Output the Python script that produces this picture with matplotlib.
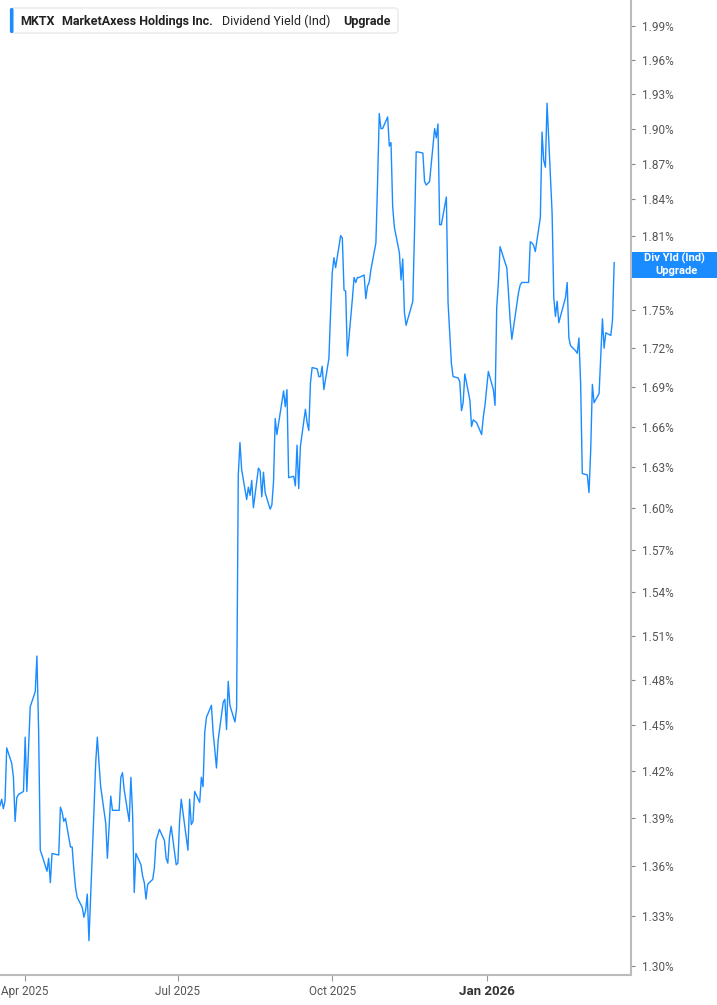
import numpy as np
import pandas as pd
import matplotlib
matplotlib.use("Agg")
import matplotlib.pyplot as plt
from matplotlib.patches import FancyBboxPatch, Rectangle
from matplotlib.ticker import NullLocator

plt.rcParams['font.family'] = ['Roboto', 'DejaVu Sans']

# dividend yield (%) per trading day
yld_spring = [1.398, 1.402, 1.396, 1.401, 1.435, 1.425, 1.416, 1.388, 1.403, 1.405,
              1.407, 1.442, 1.407, 1.434, 1.462, 1.472, 1.496, 1.447, 1.370, 1.367,
              1.357, 1.365, 1.350, 1.368, 1.367, 1.397, 1.394, 1.388, 1.390, 1.372,
              1.372, 1.358, 1.347, 1.341, 1.335, 1.329, 1.333, 1.343, 1.315, 1.395,
              1.425, 1.442, 1.425, 1.410, 1.387, 1.365, 1.385, 1.404, 1.395, 1.395,
              1.416, 1.419, 1.408, 1.388, 1.416]
yld_summer = [1.393, 1.344, 1.368, 1.361, 1.354, 1.350, 1.340, 1.349, 1.352, 1.359,
              1.376, 1.383, 1.376, 1.365, 1.362, 1.378, 1.385, 1.361, 1.362, 1.388,
              1.402, 1.370, 1.402, 1.386, 1.388, 1.407, 1.400, 1.416, 1.410, 1.445,
              1.455, 1.463, 1.445, 1.434, 1.422, 1.440, 1.465, 1.467, 1.447, 1.479,
              1.463, 1.452, 1.461]
yld_late_summer = [1.624, 1.648, 1.628, 1.606, 1.615, 1.609, 1.620, 1.600, 1.629, 1.627,
                   1.608, 1.626, 1.611, 1.599, 1.602, 1.619, 1.666, 1.654, 1.687, 1.675,
                   1.688, 1.622, 1.623, 1.616, 1.646, 1.614, 1.645, 1.673, 1.663, 1.657,
                   1.693, 1.705, 1.704, 1.698, 1.698, 1.706, 1.688, 1.712]
yld_autumn = [1.748, 1.780, 1.792, 1.784, 1.810, 1.808, 1.766, 1.765, 1.714, 1.759,
              1.776, 1.772, 1.776, 1.776, 1.778, 1.759, 1.769, 1.772, 1.782, 1.804,
              1.854, 1.913, 1.900, 1.900, 1.910, 1.885, 1.888, 1.834, 1.817, 1.796,
              1.774, 1.791, 1.748, 1.738, 1.752, 1.757, 1.812, 1.880, 1.880, 1.879,
              1.855, 1.852]
yld_winter = [1.855, 1.900, 1.892, 1.904, 1.819, 1.819, 1.842, 1.756, 1.732, 1.708,
              1.698, 1.697, 1.694, 1.672, 1.678, 1.700, 1.680, 1.660, 1.665, 1.663,
              1.654, 1.667, 1.676, 1.702, 1.688, 1.676, 1.752, 1.772, 1.801]
yld_2026 = [1.788, 1.784, 1.764, 1.742, 1.727, 1.764, 1.770, 1.772, 1.772, 1.772,
            1.805, 1.804, 1.802, 1.797, 1.825, 1.897, 1.873, 1.867, 1.922, 1.829,
            1.760, 1.745, 1.757, 1.740, 1.760, 1.772, 1.728, 1.722, 1.718, 1.716,
            1.728, 1.693, 1.625, 1.624, 1.611, 1.642, 1.692, 1.678, 1.685, 1.713,
            1.743, 1.720, 1.732, 1.730, 1.742, 1.788]

start_date = '2025-03-17'
market_holidays = ['2025-04-18', '2025-05-26', '2025-06-19', '2025-07-04', '2025-09-01',
                   '2025-11-27', '2025-12-25', '2026-01-01', '2026-01-19', '2026-02-16']

x_ticks = ['2025-04-01', '2025-07-01', '2025-10-01', '2026-01-01']
x_labels = ['Apr 2025', 'Jul 2025', 'Oct 2025', 'Jan 2026']
y_ticks = [1.30, 1.33, 1.36, 1.39, 1.42, 1.45, 1.48, 1.51, 1.54, 1.57, 1.60, 1.63,
           1.66, 1.69, 1.72, 1.75, 1.78, 1.81, 1.84, 1.87, 1.90, 1.93, 1.96, 1.99]
hidden_tick = 1.78  # sits behind the last-value tag

blue = '#1a8cff'

yld = yld_spring + yld_summer + yld_late_summer + yld_autumn + yld_winter + yld_2026
dates = pd.bdate_range(start_date, periods=len(yld), freq='C', holidays=market_holidays)

fig = plt.figure(figsize=(7.17, 10.05), dpi=100)
ax = fig.add_axes([0, 0.0299, 0.880, 0.9701])
ax.plot(dates, yld, color=blue, lw=1.0)

ax.set_yscale('log')
ax.set_ylim(1.2947, 2.014)
ax.set_xlim(pd.Timestamp('2025-03-17'), pd.Timestamp('2026-03-28'))

ax.yaxis.tick_right()
ax.yaxis.set_minor_locator(NullLocator())
ax.set_yticks(y_ticks)
ax.set_yticklabels(['' if v == hidden_tick else f"{v:.2f}%" for v in y_ticks])
ax.tick_params(axis='y', direction='out', length=3, width=0.8, color='#888888',
               labelcolor='#555555', labelsize=8.5, pad=5)

ax.set_xticks(pd.to_datetime(x_ticks))
ax.set_xticklabels(x_labels)
ax.xaxis.set_minor_locator(NullLocator())
ax.tick_params(axis='x', direction='out', length=4, width=0.8, color='#999999',
               labelcolor='#555555', labelsize=8.5, pad=3)
lab = ax.get_xticklabels()[-1]
lab.set_fontweight('bold')
lab.set_color('#333333')
lab.set_fontsize(9.5)

for side in ['top', 'left']:
    ax.spines[side].set_visible(False)
for side in ['right', 'bottom']:
    ax.spines[side].set_color('#bbbbbb')
    ax.spines[side].set_linewidth(1.5)

# overlay in pixel coordinates for the header and the last-value tag
ov = fig.add_axes([0, 0, 1, 1])
ov.set_xlim(0, 717)
ov.set_ylim(1005, 0)
ov.axis('off')

ov.add_patch(FancyBboxPatch((10, 8), 388, 25, boxstyle='round,pad=0,rounding_size=3',
                            fc='white', ec='#e4e4e4', lw=0.8))
ov.add_patch(FancyBboxPatch((10, 8), 3.5, 25, boxstyle='round,pad=0,rounding_size=1.5',
                            fc=blue, ec='none'))
ov.text(20.5, 21, 'MKTX', fontsize=9, fontweight='bold', color='#222222', va='center')
ov.text(62.5, 21, 'MarketAxess Holdings Inc.', fontsize=9, fontweight='bold',
        color='#222222', va='center')
ov.text(222, 21, 'Dividend Yield (Ind)', fontsize=9, color='#222222', va='center')
ov.text(343, 21, 'Upgrade', fontsize=9, fontweight='bold', color='#222222', va='center')

ov.add_patch(Rectangle((632, 252), 85, 25.5, fc=blue, ec='none'))
ov.text(674, 258.5, 'Div Yld (Ind)', fontsize=8, fontweight='bold', color='white',
        ha='center', va='center')
ov.text(676, 270.5, 'Upgrade', fontsize=8, fontweight='bold', color='white',
        ha='center', va='center')

fig.savefig('out.png', dpi=100)
